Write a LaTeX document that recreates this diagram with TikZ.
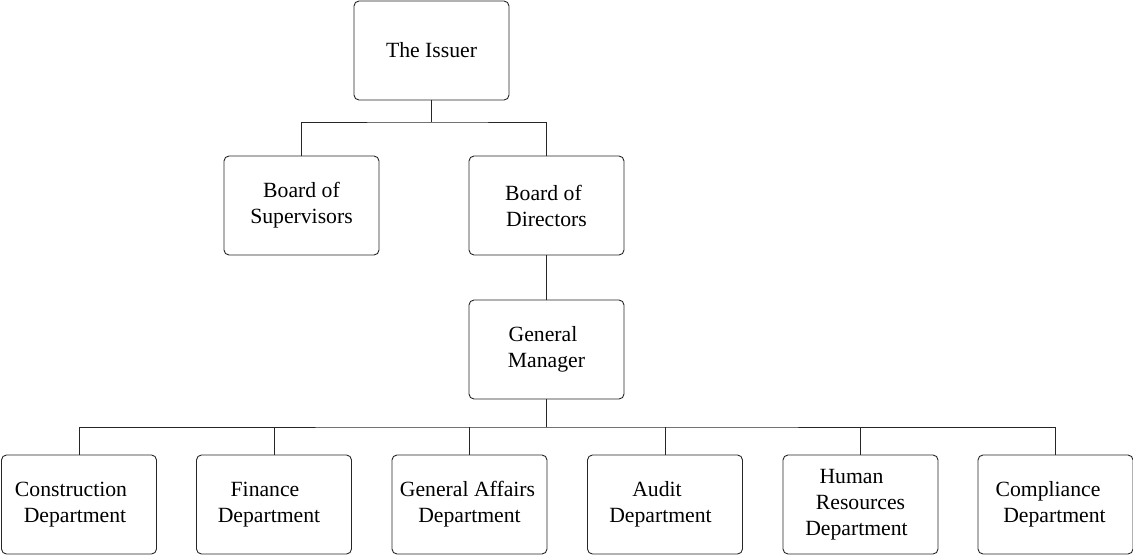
\documentclass[tikz,border=0pt]{standalone}
\usepackage{fontspec}
\setmainfont{Liberation Serif}
\newcommand{\rp}[1]{\hspace*{#1pt}}
\begin{document}
\begin{tikzpicture}[x=1pt,y=-1pt,
  box/.style={draw=black!85, line width=0.9pt, rounded corners=5pt, rectangle,
    minimum width=155pt, minimum height=99pt, align=center, inner sep=0pt,
    font=\fontsize{21.7}{26}\selectfont},
  conn/.style={draw=black!85, line width=0.9pt}]
\useasboundingbox (0,0) rectangle (1133,555);
\node[box] (issuer) at (431.5,50.5) {The Issuer};
\node[box] (sup) at (301.5,205.5) {Board of\\Supervisors};
\node[box] (dir) at (546.5,205.5) {Board of\rp{6}\\Directors};
\node[box] (gm) at (546.5,349.5) {General\rp{7}\\Manager};
\node[box] (d1) at (79,504.5) {Construction\rp{16}\\Department\rp{8}};
\node[box] (d2) at (274,504.5) {Finance\rp{18}\\Department\rp{10}};
\node[box] (d3) at (469.5,504.5) {General Affairs\rp{4}\\Department};
\node[box] (d4) at (665,504.5) {Audit\rp{16}\\Department\rp{9}};
\node[box] (d5) at (860.5,504.5) {Human\rp{18}\\Resources\rp{16}\\Department\rp{8}};
\node[box] (d6) at (1055.5,504.5) {Compliance\rp{15}\\Department\rp{2}};
\coordinate (j1) at (431.5,122);
\coordinate (j2) at (546.5,427);
\draw[conn] (issuer.south) -- (j1);
\draw[conn] (sup.north) |- (j1) -| (dir.north);
\draw[conn] (dir.south) -- (gm.north);
\draw[conn] (gm.south) -- (j2);
\draw[conn] (d1.north) |- (j2) -| (d6.north);
\foreach \d in {d2,d3,d4,d5} \draw[conn] (\d.north) -- (\d.north |- j2);
\end{tikzpicture}
\end{document}
